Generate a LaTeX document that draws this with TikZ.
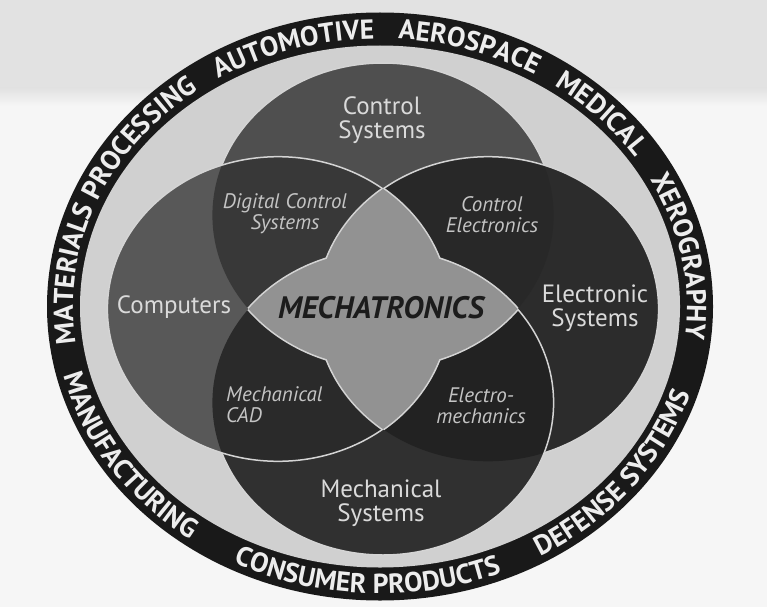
\documentclass[tikz,border=0pt]{standalone}
\usepackage{fontspec}
\setmainfont{PT Sans}
\usetikzlibrary{decorations.text}
\definecolor{pagebg}{HTML}{F6F6F6}
\definecolor{topband}{HTML}{E2E2E2}
\definecolor{ringdark}{HTML}{191919}
\definecolor{discbg}{HTML}{D0D0D0}
\definecolor{cT}{HTML}{4F4F4F}
\definecolor{cL}{HTML}{585858}
\definecolor{cR}{HTML}{2C2C2C}
\definecolor{cB}{HTML}{303030}
\definecolor{cTL}{HTML}{383838}
\definecolor{cTR}{HTML}{282828}
\definecolor{cLB}{HTML}{2A2A2A}
\definecolor{cRB}{HTML}{222222}
\definecolor{cStar}{HTML}{929292}
\definecolor{edgecol}{HTML}{D4D4D4}
\definecolor{lbltxt}{HTML}{DADADA}
\definecolor{lblittxt}{HTML}{C4C4C4}
\definecolor{mechtxt}{HTML}{1C1C1C}
\definecolor{ringtxt}{HTML}{EDEDED}
\newcommand\ringfont{\fontsize{27.5}{27.5}\selectfont\bfseries\color{ringtxt}}
% top ring text: clockwise, letters facing outward
\newcommand\TopRing[2]{\path[decorate,decoration={text along path,text align=center,text={|\ringfont|#2}}]
  ([shift={({-#1-50}:307 and 268)}]380,306.5) arc[start angle={-#1-50},end angle={-#1+50},x radius=307,y radius=268];}
% bottom ring text: counter-clockwise, letters facing inward
\newcommand\BotRing[2]{\path[decorate,decoration={text along path,text align=center,text={|\ringfont|#2}}]
  ([shift={({-#1+50}:326 and 287)}]380,306.5) arc[start angle={-#1+50},end angle={-#1-50},x radius=326,y radius=287];}
\def\cirT{(383,215.3) ellipse[x radius=170.6,y radius=152.3]}
\def\cirB{(383,402.7) ellipse[x radius=170.6,y radius=152.3]}
\def\cirL{(278,309) ellipse[x radius=170.6,y radius=152.3]}
\def\cirR{(488,309) ellipse[x radius=170.6,y radius=152.3]}
\begin{document}
\begin{tikzpicture}[x=1pt,y=-1pt,
  edgeline/.style={draw=edgecol,line width=1.5pt},
  lensedge/.style={draw=edgecol,line width=3.2pt},
  lblup/.style={text=lbltxt,font=\fontsize{25}{24}\selectfont,align=center,inner sep=0pt},
  lblit/.style={text=lblittxt,font=\fontsize{21}{21}\selectfont\itshape,align=center,inner sep=0pt}]
\useasboundingbox (0,0) rectangle (767,607);
\fill[pagebg] (0,0) rectangle (767,607);
\fill[topband] (0,0) rectangle (767,88);
\shade[top color=topband,bottom color=pagebg] (0,88) rectangle (767,106);
% outer ring
\fill[ringdark] (380,306.5) ellipse[x radius=333,y radius=294];
\fill[discbg] (380,306.5) ellipse[x radius=300,y radius=261];
% circles, in layering order T, R, B, L
\fill[cT] \cirT;
\draw[edgeline] \cirT;
\fill[cR] \cirR;
\begin{scope}\clip \cirR; \fill[cTR] \cirT; \end{scope}
\draw[edgeline] \cirR;
\fill[cB] \cirB;
\begin{scope}\clip \cirB; \fill[cRB] \cirR; \end{scope}
\draw[edgeline] \cirB;
\fill[cL] \cirL;
\begin{scope}\clip \cirL; \fill[cTL] \cirT; \end{scope}
\begin{scope}\clip \cirL; \fill[cLB] \cirB; \end{scope}
\draw[edgeline] \cirL;
% central star = union of the two lenses
\begin{scope}\clip \cirL; \draw[lensedge] \cirR; \end{scope}
\begin{scope}\clip \cirR; \draw[lensedge] \cirL; \end{scope}
\begin{scope}\clip \cirT; \draw[lensedge] \cirB; \end{scope}
\begin{scope}\clip \cirB; \draw[lensedge] \cirT; \end{scope}
\begin{scope}\clip \cirL; \fill[cStar] \cirR; \end{scope}
\begin{scope}\clip \cirT; \fill[cStar] \cirB; \end{scope}
% labels
\node[lblup] (ctrl) at (382,120) {Control\\Systems};
\node[lblup] (comp) at (174,307) {Computers};
\node[lblup] (elec) at (595,308.5) {Electronic\\Systems};
\node[lblup] (mech) at (381,503.5) {Mechanical\\Systems};
\node[lblit] (dcs) at (285,214) {Digital Control\\Systems};
\node[lblit] (ce) at (492,214.5) {Control\\Electronics};
\node[lblit,align=left,anchor=west] (cad) at (226,405) {Mechanical\\CAD};
\node[lblit] (em) at (481,405.5) {Electro-\\mechanics};
\node[text=mechtxt,font=\fontsize{31}{31}\selectfont\bfseries\itshape,inner sep=0pt] (mt) at (381,307.5) {MECHATRONICS};
% ring texts
\TopRing{158}{MATERIALS PROCESSING}
\TopRing{107.5}{AUTOMOTIVE}
\TopRing{72}{AEROSPACE}
\TopRing{42.5}{MEDICAL}
\TopRing{10}{XEROGRAPHY}
\BotRing{212.6}{MANUFACTURING}
\BotRing{267.5}{CONSUMER PRODUCTS}
\BotRing{322.5}{DEFENSE SYSTEMS}
\end{tikzpicture}
\end{document}
